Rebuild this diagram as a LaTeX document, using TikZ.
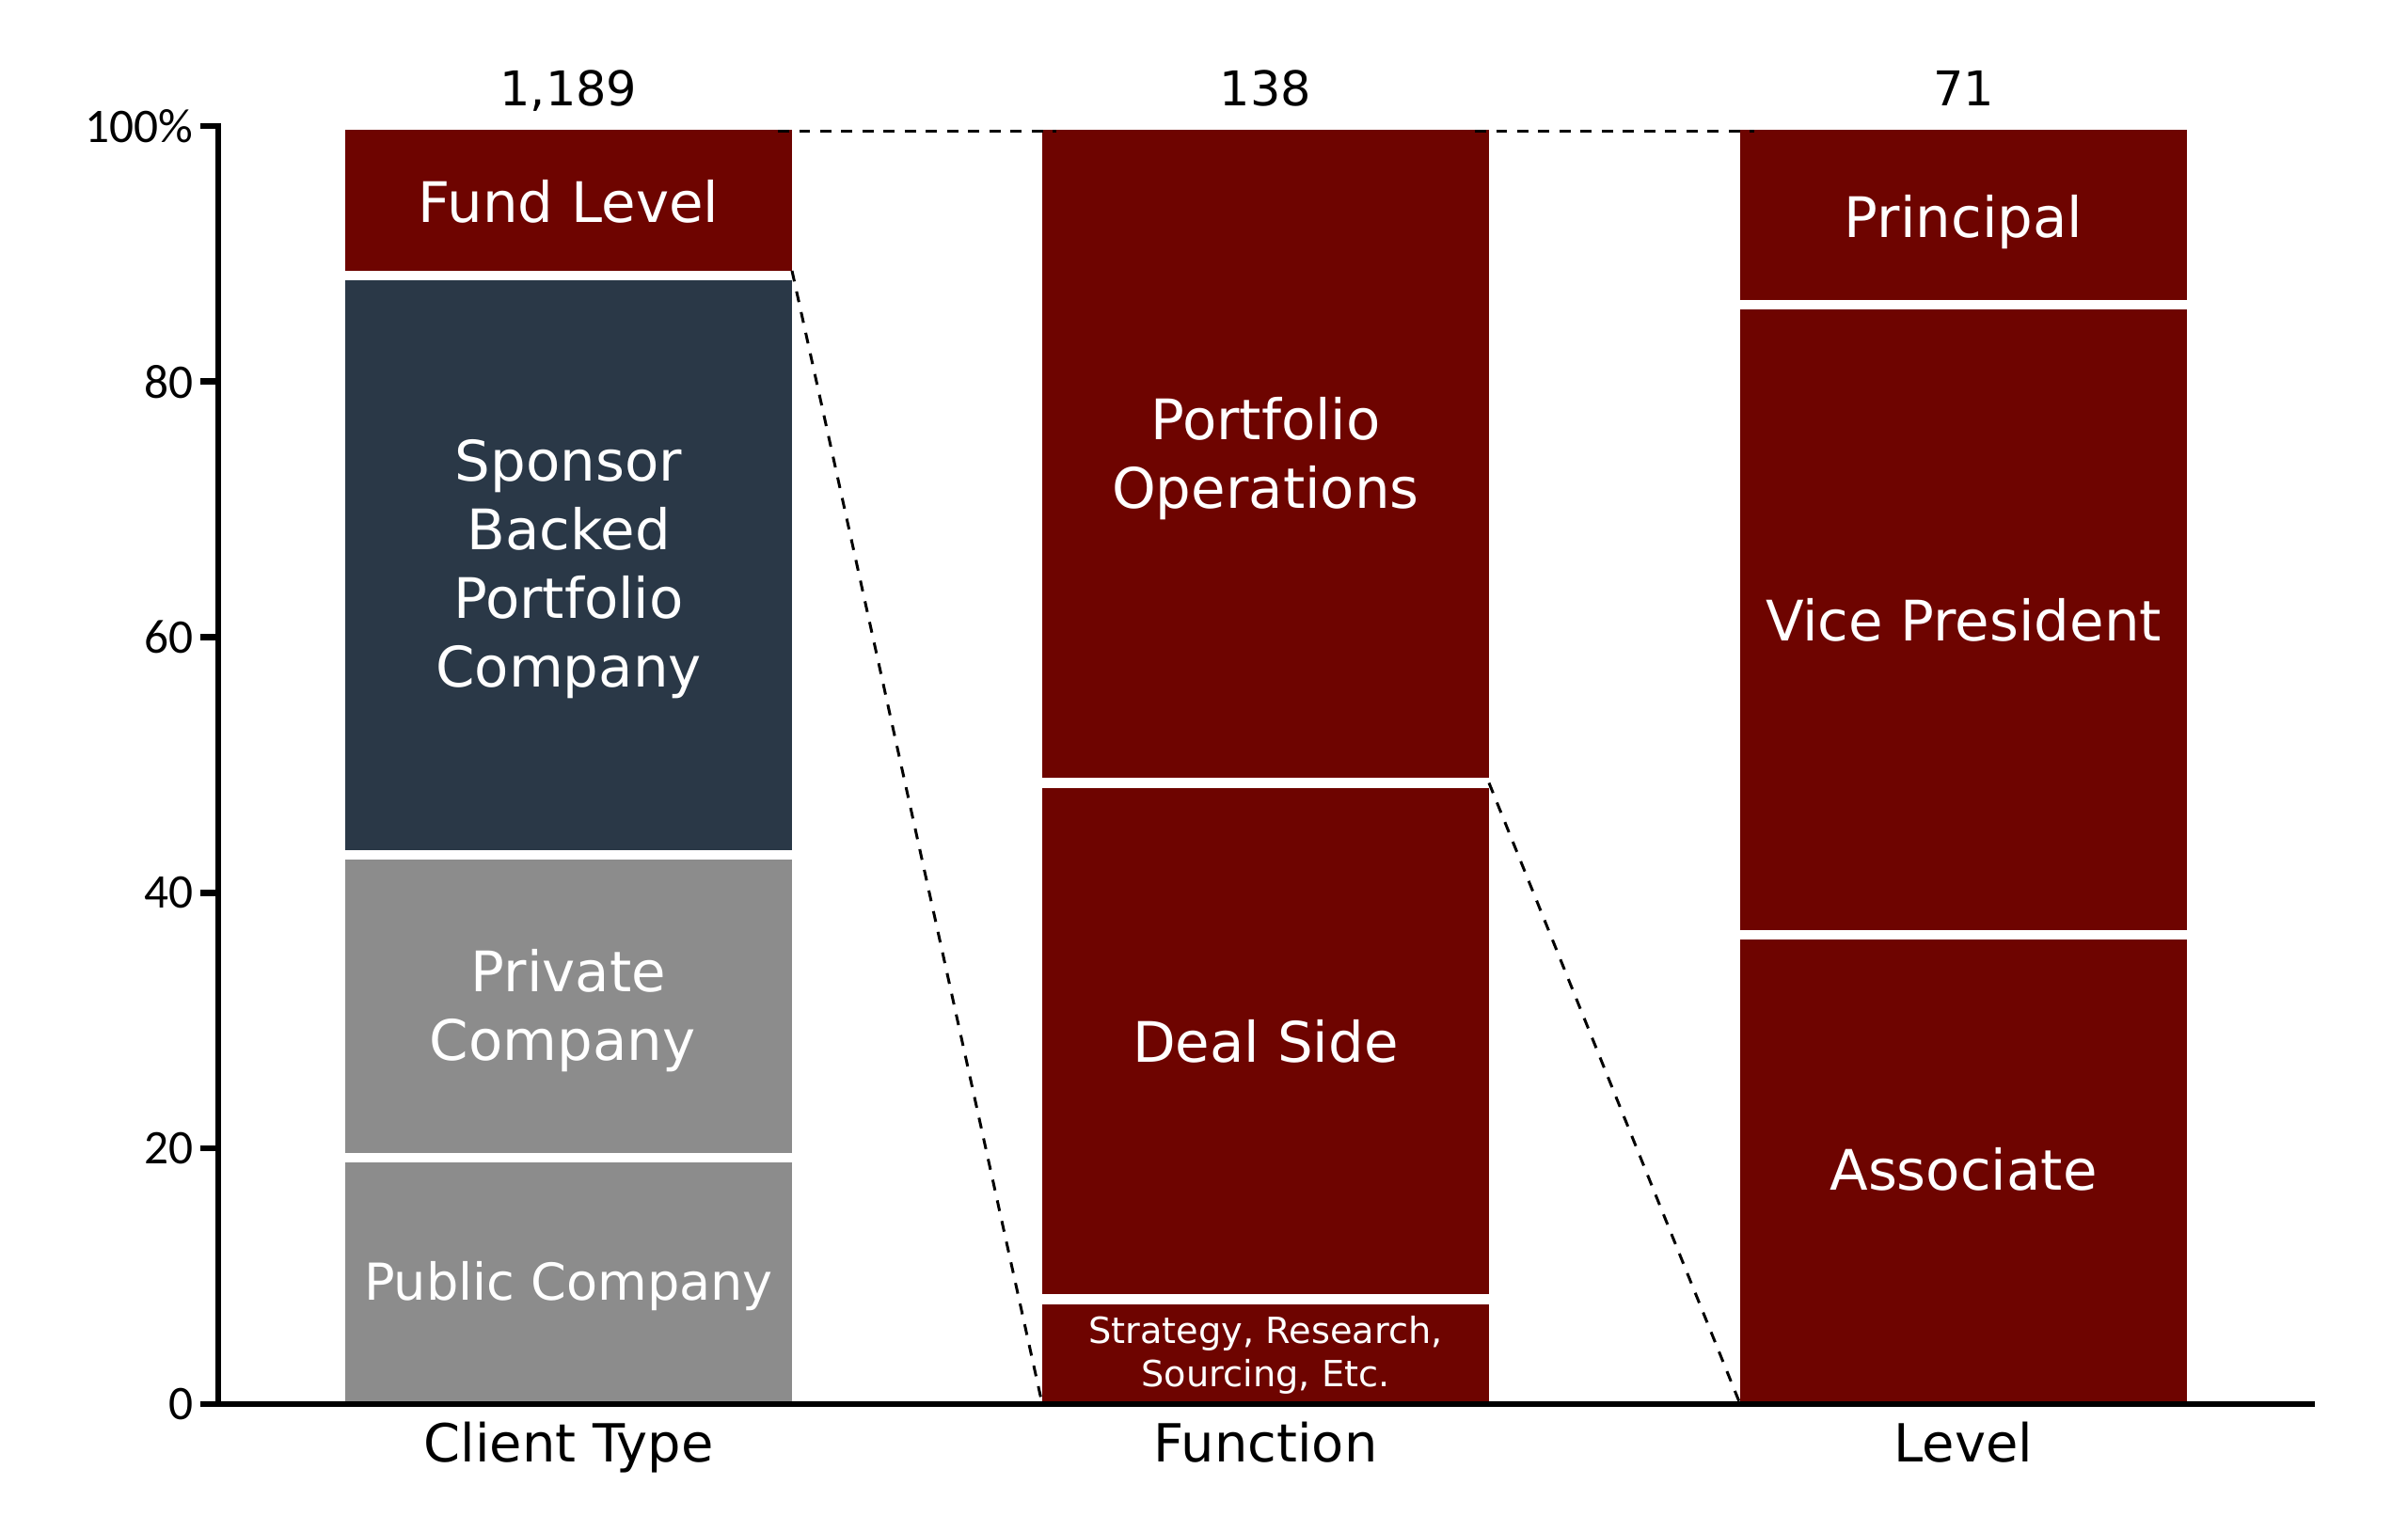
\documentclass[tikz,border=0pt]{standalone}
\usepackage{fontspec}
\setmainfont{DejaVu Sans}
\newfontfamily\tickfont{Carlito}
\definecolor{fundred}{RGB}{110,4,0}
\definecolor{sponsorblue}{RGB}{42,56,71}
\definecolor{privgray}{RGB}{140,140,140}
\begin{document}
\begin{tikzpicture}[y=0.1359cm,
        seglabel/.style={text=white, align=center, inner sep=0, font=\fontsize{16.9}{20.8}\selectfont},
        ticklabel/.style={anchor=east, inner sep=0, font=\tickfont\fontsize{14.6}{16}\selectfont},
        toplabel/.style={anchor=base, inner sep=0, font=\fontsize{14.5}{16}\selectfont},
        catlabel/.style={anchor=base, inner sep=0, font=\fontsize{15.9}{18}\selectfont},
        guide/.style={line width=0.85pt, dash pattern=on 3.3pt off 3.1pt},
        axisline/.style={line width=1.9pt}]
    \useasboundingbox (-2.32,-8.757) rectangle (23.28,109.86);
    % client type
    \fill[privgray] (1.35,0) rectangle (6.10,18.93);
    \fill[privgray] (1.35,19.67) rectangle (6.10,42.63);
    \fill[sponsorblue] (1.35,43.37) rectangle (6.10,87.93);
    \fill[fundred] (1.35,88.67) rectangle (6.10,99.7);
    % function
    \fill[fundred] (8.76,0) rectangle (13.51,7.83);
    \fill[fundred] (8.76,8.57) rectangle (13.51,48.23);
    \fill[fundred] (8.76,48.97) rectangle (13.51,99.7);
    % level
    \fill[fundred] (16.18,0) rectangle (20.93,36.33);
    \fill[fundred] (16.18,37.07) rectangle (20.93,85.63);
    \fill[fundred] (16.18,86.37) rectangle (20.93,99.7);

    \coordinate (fundNE) at (6.10,99.56);
    \coordinate (fundSE) at (6.10,88.67);
    \coordinate (opsNW) at (8.76,99.56);
    \coordinate (opsNE) at (13.51,99.56);
    \coordinate (opsSE) at (13.51,48.6);
    \coordinate (stratSW) at (8.76,0);
    \coordinate (prinNW) at (16.18,99.56);
    \coordinate (assocSW) at (16.18,0);
    \draw[guide, shorten <=-0.15cm, shorten >=-0.15cm] (fundNE) -- (opsNW);
    \draw[guide, shorten <=-0.15cm, shorten >=-0.15cm] (opsNE) -- (prinNW);
    \draw[guide] (fundSE) -- (stratSW);
    \draw[guide] (opsSE) -- (assocSW);

    % axes
    \foreach \t in {0,20,40,60,80} {
            \draw[axisline] (-0.19,\t) -- (0,\t);
            \node[ticklabel] (tick\t) at (-0.26,\t) {\t};
        }
    \node[ticklabel] (tick100) at (-0.26,100) {100\%};
    \draw[axisline] (-0.19,100) -- (0,100) -- (0,0) -- (22.29,0);

    \node[seglabel, font=\fontsize{15.4}{18}\selectfont] (pub) at (3.725,9.2) {Public Company};
    \node[seglabel] (priv) at (3.66,30.8) {\hspace*{0.13cm}Private\\Company};
    \node[seglabel] (spons) at (3.725,65.34) {Sponsor\\Backed\\Portfolio\\Company};
    \node[seglabel] (fund) at (3.725,94.1) {Fund Level};
    \node[seglabel, font=\fontsize{10.9}{13.1}\selectfont] (strat) at (11.135,3.83) {Strategy, Research,\\Sourcing, Etc.};
    \node[seglabel] (deal) at (11.135,28.4) {Deal Side};
    \node[seglabel] (ops) at (11.135,74.0) {Portfolio\\Operations};
    \node[seglabel] (assoc) at (18.555,18.4) {Associate};
    \node[seglabel] (vp) at (18.555,61.35) {Vice President};
    \node[seglabel] (prin) at (18.555,92.45) {Principal};

    \node[toplabel] (nclient) at (3.725,101.55) {1,189};
    \node[toplabel] (nfunc) at (11.135,101.55) {138};
    \node[toplabel] (nlevel) at (18.555,101.55) {71};
    \node[catlabel] (client) at (3.725,-4.56) {Client Type};
    \node[catlabel] (func) at (11.135,-4.56) {Function};
    \node[catlabel] (level) at (18.555,-4.56) {Level};
\end{tikzpicture}
\end{document}
